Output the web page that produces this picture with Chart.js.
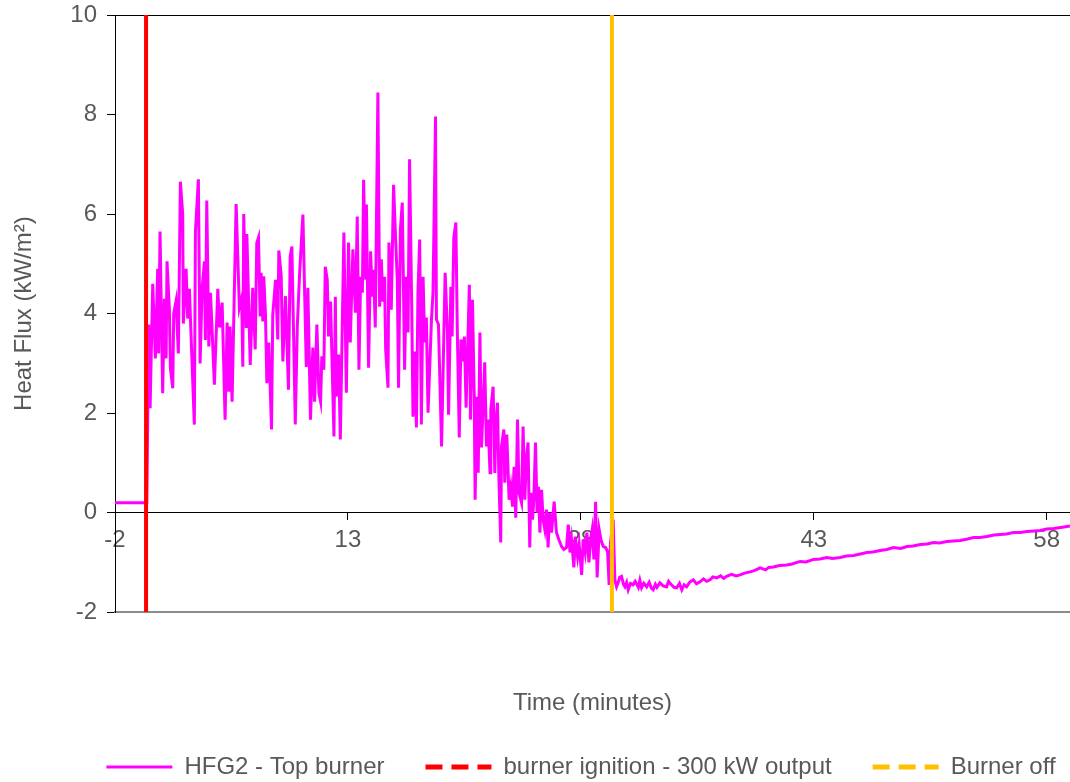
<!DOCTYPE html>
<html>
<head>
<meta charset="utf-8">
<script src="https://cdn.jsdelivr.net/npm/chart.js@4/dist/chart.umd.min.js"></script>
<style>
  html, body { margin: 0; padding: 0; background: #fff; }
</style>
</head>
<body>
<canvas id="fluxCanvas" width="1070" height="782"></canvas>
<script>
// time in minutes, heat flux in kW/m2
var times = [
  -2, 0.05, 0.17, 0.26, 0.43, 0.6, 0.75, 0.81, 0.9, 1.07, 1.18, 1.29, 1.35, 1.5, 1.57, 1.72, 1.78, 1.93,
  2.08, 2.21, 2.36, 2.4, 2.58, 2.68, 2.79, 2.94, 3.11, 3.18, 3.37, 3.48, 3.61, 3.76, 3.82, 3.91,
  4.04, 4.15, 4.4, 4.62, 4.73, 4.9, 5.09, 5.22, 5.33, 5.41, 5.54, 5.8, 6.01, 6.16, 6.23, 6.29,
  6.45, 6.49, 6.71, 6.87, 7.03, 7.13, 7.24, 7.35, 7.41, 7.52, 7.58, 7.69, 7.78, 7.9, 8.08, 8.16,
  8.34, 8.48, 8.55, 8.7, 8.81, 8.98, 9.17, 9.28, 9.39, 9.5, 9.61, 9.74, 9.89, 10.1, 10.32, 10.42,
  10.59, 10.74, 10.85, 11.0, 11.13, 11.24, 11.32, 11.45, 11.54, 11.67, 11.75, 11.88, 12.1, 12.19,
  12.25, 12.4, 12.51, 12.74, 12.9, 13.04, 13.15, 13.32, 13.48, 13.6, 13.71, 13.82, 13.93, 14.01,
  14.14, 14.19, 14.33, 14.46, 14.57, 14.65, 14.76, 14.93, 15.04, 15.15, 15.25, 15.36, 15.43, 15.58,
  15.64, 15.79, 15.94, 16.07, 16.18, 16.26, 16.38, 16.5, 16.65, 16.76, 16.87, 16.97, 17.12, 17.19,
  17.32, 17.41, 17.51, 17.62, 17.73, 17.84, 17.94, 18.05, 18.16, 18.38, 18.48, 18.64, 18.7, 18.83,
  19.03, 19.26, 19.41, 19.48, 19.63, 19.71, 19.82, 19.95, 20.04, 20.17, 20.28, 20.39, 20.5, 20.61,
  20.82, 20.89, 21.02, 21.13, 21.19, 21.32, 21.39, 21.5, 21.6, 21.7, 21.81, 21.92, 22.02, 22.15,
  22.2, 22.35, 22.46, 22.52, 22.63, 22.72, 22.84, 22.89, 23.04, 23.1, 23.23, 23.38, 23.49, 23.6,
  23.7, 23.81, 23.92, 24.02, 24.18, 24.28, 24.39, 24.5, 24.6, 24.71, 24.78, 24.89, 24.97, 25.08,
  25.18, 25.27, 25.36, 25.47, 25.57, 25.68, 25.79, 25.89, 26.0, 26.11, 26.28, 26.43, 26.58, 26.76,
  26.91, 27.08, 27.19, 27.3, 27.4, 27.55, 27.64, 27.79, 27.89, 28.05, 28.15, 28.28, 28.39, 28.52,
  28.63, 28.73, 28.84, 28.95, 29.05, 29.18, 29.29, 29.44, 29.59, 29.72, 29.82, 29.91, 30.08, 30.19,
  30.3, 30.4, 30.5, 30.62, 30.75, 30.84, 30.95, 31.05, 31.2, 31.37, 31.5, 31.7, 31.8, 31.91, 32.05,
  32.24, 32.4, 32.55, 32.66, 32.8, 32.9, 33.09, 33.3, 33.52, 33.65, 33.8, 34.0, 34.17, 34.35, 34.5,
  34.65, 34.81, 35.0, 35.24, 35.45, 35.67, 35.9, 36.1, 36.32, 36.5, 36.75, 37.0, 37.2, 37.39, 37.7,
  38.0, 38.25, 38.6, 38.9, 39.2, 39.54, 39.9, 40.1, 40.4, 40.8, 41.26, 41.6, 42.12, 42.5, 42.98,
  43.4, 43.84, 44.2, 44.7, 45.1, 45.56, 46.0, 46.42, 46.8, 47.28, 47.7, 48.14, 48.6, 49.0, 49.4,
  49.86, 50.3, 50.71, 51.1, 51.57, 52.0, 52.43, 52.9, 53.29, 53.7, 54.15, 54.6, 55.01, 55.4,
  55.87, 56.3, 56.73, 57.2, 57.59, 58.0, 58.45, 58.9, 59.31, 59.5
];
var flux = [
  0.2, 0.2, 3.78, 2.1, 4.6, 3.1, 4.9, 3.2, 5.65, 2.4, 4.3, 3.1, 5.05, 4.1, 2.9, 2.5, 4.0, 4.25,
  3.2, 6.65, 6.0, 3.8, 4.9, 3.9, 4.5, 3.2, 1.77, 5.65, 6.7, 3.0, 4.5, 5.05, 3.47, 6.27,
  3.34, 4.42, 2.57, 4.5, 3.72, 4.22, 1.87, 3.82, 2.43, 3.74, 2.23, 6.2, 4.12, 4.32, 2.93, 6.0,
  3.74, 5.6, 2.97, 4.52, 3.28, 5.42, 5.53, 3.94, 4.82, 3.84, 4.75, 3.98, 2.6, 3.42, 1.67, 3.98,
  4.68, 3.48, 5.27, 4.78, 3.04, 4.35, 2.47, 5.15, 5.35, 3.58, 1.77, 3.74, 4.82, 5.99, 2.93, 4.52,
  1.87, 3.32, 2.23, 3.78, 2.41, 2.23, 3.14, 2.87, 4.94, 4.68, 3.54, 4.24, 1.53, 4.34,
  2.33, 3.18, 1.47, 5.63, 2.41, 5.43, 3.42, 5.29, 4.02, 5.95, 2.87, 4.74, 4.42, 6.69,
  4.68, 6.19, 2.91, 5.25, 4.34, 4.88, 3.72, 8.44, 4.14, 5.09, 4.24, 4.74, 3.28, 2.51,
  5.43, 4.08, 6.59, 5.49, 4.68, 2.51, 5.69, 6.23, 2.87, 4.74, 3.62, 7.1, 3.88, 1.93,
  3.24, 1.71, 4.42, 5.49, 1.77, 4.74, 3.42, 3.92, 2.01, 3.88, 4.42, 7.96, 3.88, 3.78,
  1.33, 4.82, 3.62, 1.97, 4.54, 3.54, 5.53, 5.83, 3.74, 1.51, 3.48, 3.04, 3.54, 2.11,
  4.58, 1.87, 4.28, 2.41, 0.26, 2.33, 0.8, 3.62, 1.31, 2.07, 3.02, 1.33, 1.87, 0.8,
  2.07, 2.53, 0.8, 1.73, 2.21, 0.72, -0.6, 1.33, 1.67, 0.6, 1.57, 0.26, 0.52, 0.12,
  0.92, -0.1, 1.87, 0.4, 0.2, 1.73, 0.26, 1.13, 1.41, -0.7, 0.4, -0.14, 0.26, 1.41,
  0, 0.52, -0.4, 0.46, -0.14, -0.34, 0.06, -0.7, 0, -0.4, 0.22, -0.4, -0.54, -0.68,
  -0.74, -0.7, -0.24, -0.8, -0.54, -1.1, -0.48, -0.88, -0.64, -1.25, -0.54, -0.8, -0.4, -1.0,
  -0.54, -0.34, -0.94, 0.22, -1.3, -0.34, -0.54, -0.68, -0.7, -0.78, -1.45, -0.6, -0.14, -1.35,
  -1.49, -1.41, -1.3, -1.28, -1.44, -1.49, -1.4, -1.55, -1.42, -1.45, -1.38, -1.5, -1.36, -1.51, -1.42,
  -1.49, -1.4, -1.52, -1.55, -1.44, -1.5, -1.41, -1.47, -1.49, -1.38, -1.44, -1.5, -1.51, -1.42, -1.55,
  -1.45, -1.49, -1.4, -1.35, -1.43, -1.39, -1.33, -1.38, -1.35, -1.29, -1.31, -1.27, -1.32, -1.28, -1.24,
  -1.27, -1.25, -1.21, -1.19, -1.16, -1.11, -1.15, -1.1, -1.09, -1.06, -1.05, -1.03, -0.98, -0.99, -0.94,
  -0.93, -0.9, -0.92, -0.9, -0.87, -0.86, -0.83, -0.8, -0.79, -0.76, -0.74, -0.7, -0.72, -0.68, -0.67,
  -0.64, -0.63, -0.6, -0.61, -0.58, -0.57, -0.56, -0.53, -0.5, -0.5, -0.48, -0.45, -0.44, -0.43,
  -0.4, -0.4, -0.38, -0.37, -0.36, -0.33, -0.32, -0.3, -0.28, -0.27
];

var xTicks = [-2, 13, 28, 43, 58];
var ignitionTime = [0, 0];
var burnerOffTime = [30, 30];
var markerSpan = [-2, 10];

var textColor = '#595959';
Chart.defaults.font.family = '"Liberation Sans", Arial, sans-serif';
Chart.defaults.font.size = 24;
Chart.defaults.color = textColor;

function pairs(xs, ys) {
    return xs.map(function(x, i) { return {x: x, y: ys[i]}; });
}

// push the legend row to where the original sits
var legendShift = {
    id: 'legendShift',
    afterLayout: function(chart) {
        chart.legend.left += 46;
        chart.legend.right += 46;
    }
};

const ctxFlux = document.getElementById('fluxCanvas').getContext('2d');
const chartFlux = new Chart(ctxFlux, {
    type: 'line',
    data: {
        datasets: [{
            label: 'HFG2 - Top burner',
            data: pairs(times, flux),
            borderColor: '#FF00FF',
            backgroundColor: '#FF00FF',
            borderWidth: 3,
            pointRadius: 0,
            tension: 0,
            order: 3,
            xAxisID: 'x',
            yAxisID: 'y'
        }, {
            label: 'burner ignition - 300 kW output',
            data: pairs(ignitionTime, markerSpan),
            borderColor: '#FF0000',
            backgroundColor: '#FF0000',
            borderWidth: 4,
            pointRadius: 0,
            order: 2,
            xAxisID: 'x',
            yAxisID: 'y'
        }, {
            label: 'Burner off',
            data: pairs(burnerOffTime, markerSpan),
            borderColor: '#FFC000',
            backgroundColor: '#FFC000',
            borderWidth: 4,
            pointRadius: 0,
            order: 1,
            xAxisID: 'x',
            yAxisID: 'y'
        }]
    },
    options: {
        responsive: false,
        animation: false,
        devicePixelRatio: 1,
        layout: {
            padding: {top: 15, left: 0, right: 0, bottom: -7}
        },
        plugins: {
            tooltip: {enabled: false},
            legend: {
                position: 'bottom',
                labels: {
                    usePointStyle: true,
                    pointStyle: 'line',
                    pointStyleWidth: 66,
                    padding: 41,
                    color: textColor,
                    font: {size: 24},
                    sort: function(a, b) { return a.datasetIndex - b.datasetIndex; },
                    generateLabels: function(chart) {
                        var items = Chart.defaults.plugins.legend.labels.generateLabels(chart);
                        items.forEach(function(item) {
                            if (item.datasetIndex > 0) {
                                item.lineDash = [17, 9];
                                item.lineWidth = 5;
                            }
                        });
                        return items;
                    }
                }
            }
        },
        scales: {
            x: {
                type: 'linear',
                position: {y: 0},
                min: -2,
                max: 59.5,
                afterBuildTicks: function(axis) {
                    axis.ticks = xTicks.map(function(v) { return {value: v}; });
                },
                afterFit: function(axis) {
                    axis.height = 0;
                },
                grid: {
                    drawOnChartArea: false,
                    tickLength: 7,
                    tickColor: '#000'
                },
                border: {color: '#000', width: 1},
                ticks: {
                    autoSkip: false,
                    maxRotation: 0,
                    padding: 6,
                    color: textColor,
                    font: {size: 24}
                }
            },
            xTitle: {
                type: 'linear',
                axis: 'x',
                position: 'bottom',
                min: -2,
                max: 59.5,
                grid: {drawOnChartArea: false, drawTicks: false},
                border: {color: '#8c8c8c', width: 2},
                ticks: {display: false},
                title: {
                    display: true,
                    text: 'Time (minutes)',
                    color: textColor,
                    font: {size: 24},
                    padding: {top: 77, bottom: -4}
                }
            },
            y: {
                type: 'linear',
                position: 'left',
                min: -2,
                max: 10,
                afterFit: function(axis) {
                    axis.width = 115;
                    axis.paddingTop = 0;
                    axis.paddingBottom = 0;
                },
                ticks: {
                    stepSize: 2,
                    padding: 10,
                    color: textColor,
                    font: {size: 24}
                },
                grid: {
                    tickLength: 8,
                    tickColor: '#000',
                    color: function(ctx) {
                        return ctx.tick && ctx.tick.value === 10 ? '#000' : 'rgba(0,0,0,0)';
                    }
                },
                border: {color: '#000', width: 1},
                title: {
                    display: true,
                    text: 'Heat Flux (kW/m²)',
                    color: textColor,
                    font: {size: 24},
                    padding: {top: 10, bottom: 10}
                }
            }
        }
    },
    plugins: [legendShift]
});
</script>
</body>
</html>
